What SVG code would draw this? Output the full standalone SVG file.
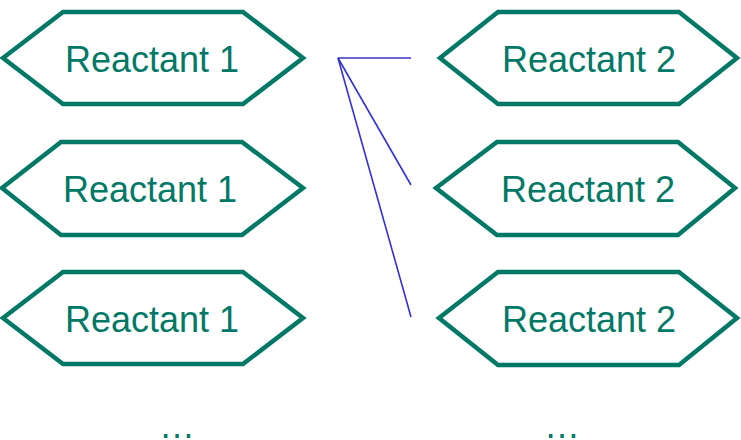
<svg xmlns="http://www.w3.org/2000/svg" width="741" height="440" viewBox="0 0 741 440">
  <style>
    .hex { fill: #ffffff; stroke: #007866; stroke-width: 4.5; stroke-linejoin: miter; }
    .label { font-family: "Liberation Sans", Arial, sans-serif; font-size: 36px; fill: #007866; text-anchor: middle; }
    .link { stroke: #3333cc; stroke-width: 1.6; fill: none; }
  </style>
  <rect width="741" height="440" fill="#ffffff"/>

  <!-- left column -->
  <g id="reactant1-a">
    <polygon class="hex" points="3,58 63,12 243,12 303,58 243,104 63,104"/>
    <text class="label" x="152" y="72">Reactant 1</text>
  </g>
  <g id="reactant1-b">
    <polygon class="hex" points="2,188 61,142 242,142 303,188 242,235 61,235"/>
    <text class="label" x="150" y="202">Reactant 1</text>
  </g>
  <g id="reactant1-c">
    <polygon class="hex" points="3,318 63,272 243,272 303,318 243,364 63,364"/>
    <text class="label" x="152" y="332">Reactant 1</text>
  </g>

  <!-- right column -->
  <g id="reactant2-a">
    <polygon class="hex" points="440,58 498,12 679,12 737,58 679,104 498,104"/>
    <text class="label" x="589" y="72">Reactant 2</text>
  </g>
  <g id="reactant2-b">
    <polygon class="hex" points="436,188 497,142 678,142 735,188 678,235 497,235"/>
    <text class="label" x="588" y="202">Reactant 2</text>
  </g>
  <g id="reactant2-c">
    <polygon class="hex" points="439,318 498,272 679,272 737,318 679,365 498,365"/>
    <text class="label" x="589" y="332">Reactant 2</text>
  </g>

  <!-- continuation marks -->
  <g id="more-left">
    <text class="label" x="177" y="438">…</text>
  </g>
  <g id="more-right">
    <text class="label" x="562" y="438">…</text>
  </g>

  <!-- connectors fanning out from one point -->
  <g id="connectors">
    <line class="link" x1="338" y1="58" x2="411" y2="58"/>
    <line class="link" x1="338" y1="58" x2="411" y2="185"/>
    <line class="link" x1="338" y1="58" x2="411" y2="317"/>
  </g>
</svg>
